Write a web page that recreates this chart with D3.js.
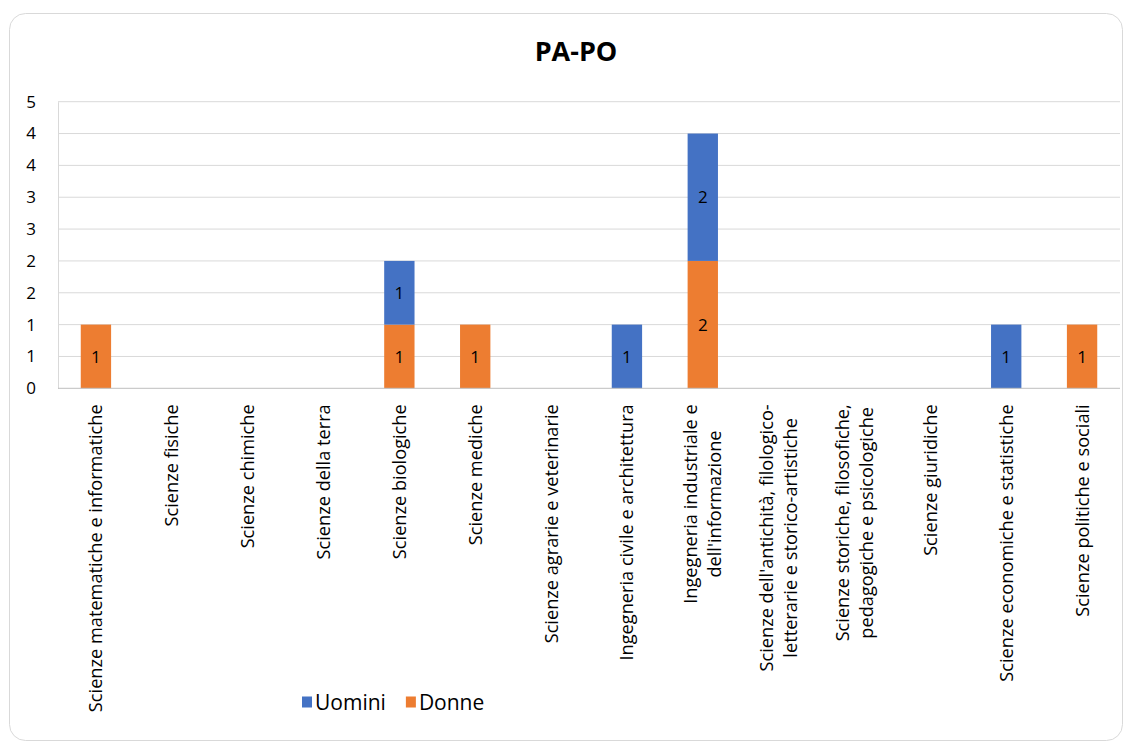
<!DOCTYPE html>
<html>
<head>
<meta charset="utf-8">
<script src="https://cdn.jsdelivr.net/npm/d3@7"></script>
<style>
  body { margin: 0; background: #fff; }
  text { font-family: "Open Sans", sans-serif; }
</style>
</head>
<body>
<div id="chart"></div>
<script>
// categorie (righe multiple dove l'etichetta va a capo)
const categories = [
  ["Scienze matematiche e informatiche"],
  ["Scienze fisiche"],
  ["Scienze chimiche"],
  ["Scienze della terra"],
  ["Scienze biologiche"],
  ["Scienze mediche"],
  ["Scienze agrarie e veterinarie"],
  ["Ingegneria civile e architettura"],
  ["Ingegneria industriale e", "dell'informazione"],
  ["Scienze dell'antichità, filologico-", "letterarie e storico-artistiche"],
  ["Scienze storiche, filosofiche,", "pedagogiche e psicologiche"],
  ["Scienze giuridiche"],
  ["Scienze economiche e statistiche"],
  ["Scienze politiche e sociali"]
]
const uomini = [0, 0, 0, 0, 1, 0, 0, 1, 2, 0, 0, 0, 1, 0]
const donne  = [1, 0, 0, 0, 1, 1, 0, 0, 2, 0, 0, 0, 0, 1]
const yTicks = [0, 0.5, 1, 1.5, 2, 2.5, 3, 3.5, 4, 4.5]
const seriesNames = ["Uomini", "Donne"]
const colors = { Uomini: "#4472C4", Donne: "#ED7D31" }

const W = 1129, H = 743
const margin = { top: 101.7, left: 58, right: 9, bottom: 354.7 }
const plotH = H - margin.top - margin.bottom
const plotW = W - margin.left - margin.right

const svg = d3.select("#chart").append("svg")
  .attr("width", W)
  .attr("height", H)

// cornice
svg.append("rect")
  .attr("x", 9.5).attr("y", 13.5)
  .attr("width", 1113).attr("height", 727)
  .attr("rx", 16)
  .attr("fill", "#fff")
  .attr("stroke", "#d9d9d9")

svg.append("text")
  .attr("x", 576).attr("y", 61)
  .attr("text-anchor", "middle")
  .attr("font-size", 27)
  .attr("font-weight", "bold")
  .text("PA-PO")

const g = svg.append("g")
  .attr("transform", `translate(${margin.left},${margin.top})`)

const x = d3.scaleBand()
  .domain(d3.range(categories.length))
  .range([0, plotW])
  .paddingInner(0.6)
  .paddingOuter(0.3)

const y = d3.scaleLinear()
  .domain([0, 4.5])
  .range([plotH, 0])

// griglia
g.append("g")
  .selectAll("line")
  .data(yTicks.slice(1))
  .join("line")
    .attr("x1", 0).attr("x2", plotW)
    .attr("y1", d => y(d)).attr("y2", d => y(d))
    .attr("stroke", "#d9d9d9")

// asse Y
const yAxis = g.append("g")
  .call(d3.axisLeft(y).tickValues(yTicks).tickSize(0).tickPadding(22)
    .tickFormat(d => Math.round(d)))
yAxis.select(".domain").attr("stroke", "#d9d9d9")
yAxis.selectAll("text")
  .attr("font-size", 17)
  .attr("fill", "#000")
  .style("font-family", "'Open Sans', sans-serif")

// barre impilate
const rows = categories.map((c, i) => ({ i: i, Donne: donne[i], Uomini: uomini[i] }))
const stacked = d3.stack().keys(["Donne", "Uomini"])(rows)

const layer = g.append("g")
  .selectAll("g")
  .data(stacked)
  .join("g")
    .attr("fill", d => colors[d.key])

layer.selectAll("rect")
  .data(d => d.filter(p => p[1] - p[0] > 0))
  .join("rect")
    .attr("x", d => x(d.data.i))
    .attr("width", x.bandwidth())
    .attr("y", d => y(d[1]))
    .attr("height", d => y(d[0]) - y(d[1]))

layer.selectAll("text")
  .data(d => d.filter(p => p[1] - p[0] > 0))
  .join("text")
    .attr("x", d => x(d.data.i) + x.bandwidth() / 2)
    .attr("y", d => (y(d[0]) + y(d[1])) / 2)
    .attr("dy", "0.36em")
    .attr("text-anchor", "middle")
    .attr("font-size", 17)
    .attr("fill", "#000")
    .text(d => d[1] - d[0])

// asse X
g.append("line")
  .attr("x1", 0).attr("x2", plotW)
  .attr("y1", plotH).attr("y2", plotH)
  .attr("stroke", "#bfbfbf")

const lineH = 24
const labelTop = plotH + 16
categories.forEach((lines, i) => {
  const cx = x(i) + x.bandwidth() / 2
  const t = g.append("text")
    .attr("font-size", 18.2)
    .attr("fill", "#000")
    .attr("text-anchor", "middle")
  lines.forEach((ln, k) => {
    t.append("tspan")
      .attr("x", 0)
      .attr("y", (k - (lines.length - 1) / 2) * lineH)
      .attr("dy", "0.36em")
      .text(ln)
  })
  const len = d3.max(t.selectAll("tspan").nodes(), n => n.getComputedTextLength())
  t.attr("transform", `translate(${cx},${labelTop + len / 2}) rotate(-90)`)
})

// legenda
const legend = svg.append("g").attr("transform", "translate(302,702)")
let lx = 0
seriesNames.forEach(name => {
  legend.append("rect")
    .attr("x", lx).attr("y", -5.5)
    .attr("width", 10).attr("height", 11)
    .attr("fill", colors[name])
  const tt = legend.append("text")
    .attr("x", lx + 13).attr("y", 0)
    .attr("dy", "0.36em")
    .attr("font-size", 21)
    .text(name)
  lx += 13 + tt.node().getComputedTextLength() + 20
})
</script>
</body>
</html>
